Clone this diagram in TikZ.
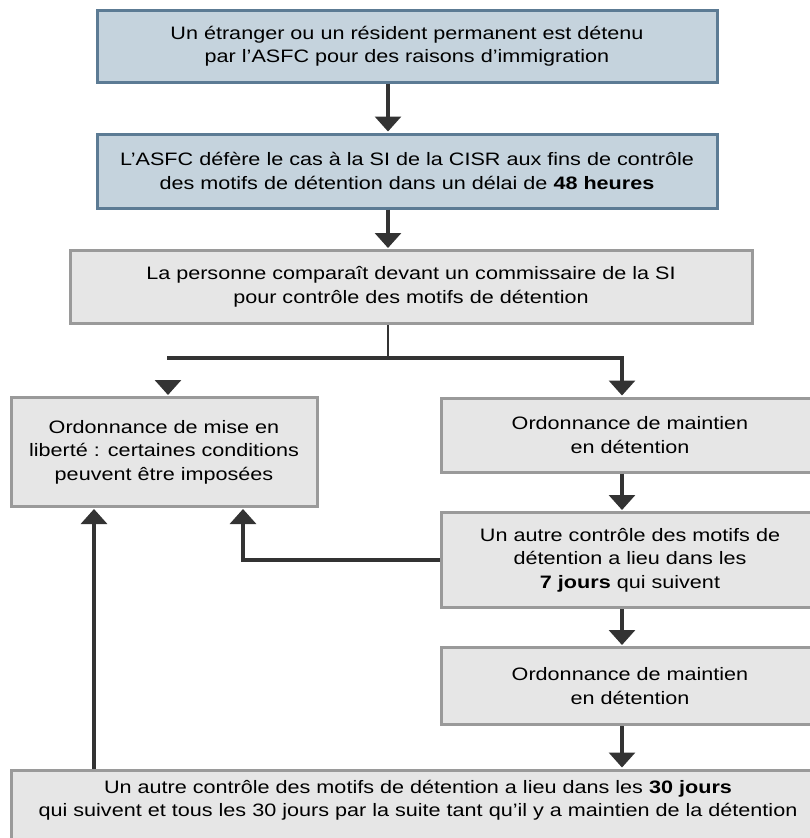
\documentclass[tikz,border=0pt]{standalone}
\usepackage{fontspec}
\setmainfont{Liberation Sans}[FakeStretch=1.2]
\usetikzlibrary{arrows.meta}
\definecolor{bluefill}{HTML}{C5D3DD}
\definecolor{blueedge}{HTML}{5C7B94}
\definecolor{grayfill}{HTML}{E6E6E6}
\definecolor{grayedge}{HTML}{9A9A9A}
\definecolor{linecol}{HTML}{333333}
\begin{document}
\begin{tikzpicture}[x=1pt,y=-1pt,
  box/.style={draw, line width=3pt, align=center, inner sep=0pt,
    font=\fontsize{18}{23.5}\selectfont},
  bluebox/.style={box, draw=blueedge, fill=bluefill},
  graybox/.style={box, draw=grayedge, fill=grayfill},
  txt/.style={align=center, inner sep=0pt, font=\fontsize{18}{23.5}\selectfont},
  conn/.style={draw=linecol, line width=3.2pt},
  thinconn/.style={draw=linecol, line width=1.4pt},
  arr/.style={conn, -{Triangle[width=26pt,length=15pt]}, shorten >=1pt}]
\useasboundingbox (0,0) rectangle (809,838);
\fill[white] (0,0) rectangle (809,838);
\coordinate (cx) at (388,0);
\coordinate (rx) at (622,0);
\coordinate (lx1) at (94,0);
\coordinate (lx2) at (243,0);
\coordinate (j) at (388,358);
\coordinate (le) at (167,358);
\coordinate (tl) at (168,380);

\node[bluebox, minimum width=620pt, minimum height=72pt] (b1) at (407,46)
  {Un étranger ou un résident permanent est détenu\\par l'ASFC pour des raisons d'immigration};
\node[bluebox, minimum width=620pt, minimum height=74pt] (b2) at (407,171)
  {L'ASFC défère le cas à la SI de la CISR aux fins de contrôle\\des motifs de détention dans un délai de \textbf{48 heures}};
\node[graybox, minimum width=682pt, minimum height=73pt] (b3) at (411,287)
  {La personne comparaît devant un commissaire de la SI\\pour contrôle des motifs de détention};
\node[graybox, minimum width=306pt, minimum height=109pt] (lft) at (164,452)
  {Ordonnance de mise en\\liberté : certaines conditions\\peuvent être imposées};
\node[graybox, minimum width=378pt, minimum height=74pt] (r1) at (630,435)
  {Ordonnance de maintien\\en détention};
\node[graybox, minimum width=378pt, minimum height=95pt] (r2) at (630,560)
  {Un autre contrôle des motifs de\\détention a lieu dans les\\\textbf{7 jours} qui suivent};
\node[graybox, minimum width=378pt, minimum height=77pt] (r3) at (630,686)
  {Ordonnance de maintien\\en détention};
\node[graybox, minimum width=814pt, minimum height=80pt] (bb) at (418,810) {};
\node[txt] (bt) at (418,800)
  {Un autre contrôle des motifs de détention a lieu dans les \textbf{30 jours}\\qui suivent et tous les 30 jours par la suite tant qu'il y a maintien de la détention};

\draw[arr] (b1.south -| cx) -- (b2.north -| cx);
\draw[arr] (b2.south -| cx) -- (b3.north -| cx);
\draw[thinconn] (b3.south -| cx) -- (j);
\draw[conn] (le) -- (j);
\draw[arr] (j) -| (r1.north -| rx);
\draw[arr] (tl) -- (lft.north -| tl);
\draw[arr] (r1.south -| rx) -- (r2.north -| rx);
\draw[arr] (r2.west) -| (lft.south -| lx2);
\draw[arr] (r2.south -| rx) -- (r3.north -| rx);
\draw[arr] (r3.south -| rx) -- (bb.north -| rx);
\draw[arr] (bb.north -| lx1) -- (lft.south -| lx1);
\end{tikzpicture}
\end{document}
